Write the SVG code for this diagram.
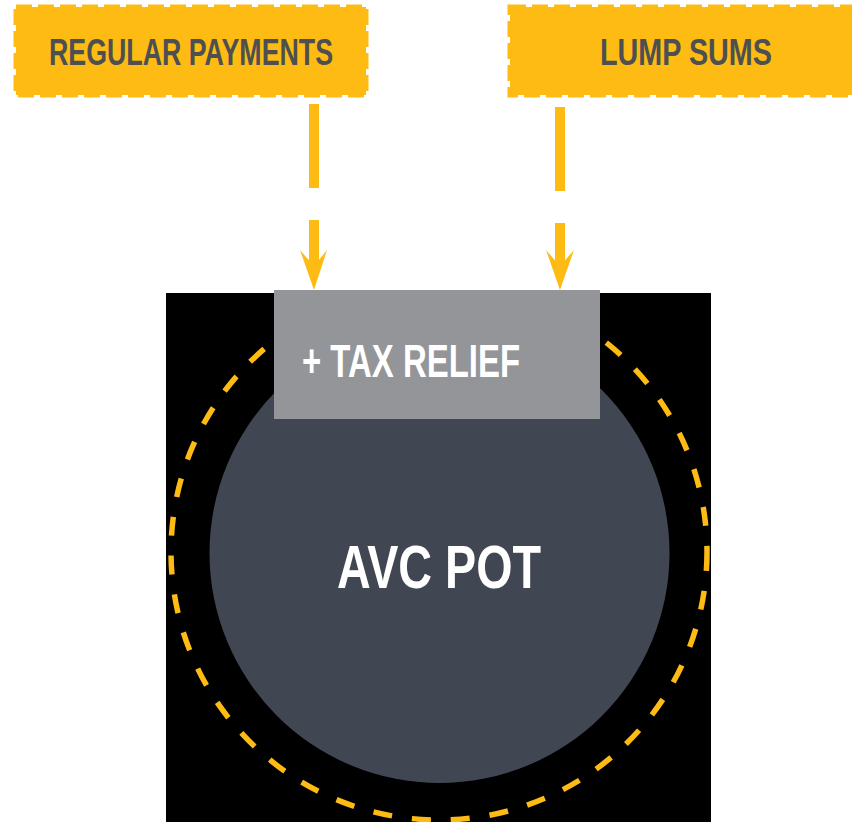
<svg xmlns="http://www.w3.org/2000/svg" width="852" height="822" viewBox="0 0 852 822">
<defs>
<clipPath id="potclip"><rect x="166" y="293" width="545" height="529"/></clipPath>
</defs>
<style>
.box{fill:#FDBB13;stroke:#FDBB13;stroke-width:5;stroke-dasharray:16 6}
.lbl{font-family:"Liberation Sans Narrow","Liberation Sans",Arial,sans-serif;font-weight:bold;fill:#4D4F51;font-size:36px}
.wt{font-family:"Liberation Sans Narrow","Liberation Sans",Arial,sans-serif;font-weight:bold;fill:#FFFFFF}
.conn{stroke:#FDBB13;stroke-width:10;fill:none}
.head{fill:#FDBB13}
</style>
<rect width="852" height="822" fill="#FFFFFF"/>
<g id="pot">
<rect x="166" y="293" width="545" height="529" fill="#000000"/>
<circle cx="439" cy="552" r="268" fill="none" stroke="#FDBB13" stroke-width="5.5" stroke-dasharray="19 20" clip-path="url(#potclip)"/>
<circle cx="439.5" cy="553" r="230" fill="#414752"/>
<text class="wt" x="337" y="588" font-size="62" textLength="204" lengthAdjust="spacingAndGlyphs">AVC POT</text>
</g>
<g id="tax-relief">
<rect x="274" y="290" width="326" height="129" fill="#939598"/>
<text class="wt" x="302" y="377" font-size="46" textLength="218" lengthAdjust="spacingAndGlyphs">+ TAX RELIEF</text>
</g>
<g id="regular-payments">
<rect class="box" x="16" y="7" width="350" height="88"/>
<text class="lbl" x="49" y="65" textLength="284" lengthAdjust="spacingAndGlyphs">REGULAR PAYMENTS</text>
</g>
<g id="lump-sums">
<rect class="box" x="510" y="7" width="345" height="88"/>
<text class="lbl" x="600" y="65" textLength="172" lengthAdjust="spacingAndGlyphs">LUMP SUMS</text>
</g>
<g id="connectors">
<line class="conn" x1="314" y1="104" x2="314" y2="188"/>
<line class="conn" x1="314" y1="220" x2="314" y2="268"/>
<polygon class="head" points="300,250 314,266 327,250 314,290"/>
<line class="conn" x1="560" y1="107" x2="560" y2="191"/>
<line class="conn" x1="560" y1="223" x2="560" y2="268"/>
<polygon class="head" points="546,250 560,266 574,250 560,290"/>
</g>
</svg>
